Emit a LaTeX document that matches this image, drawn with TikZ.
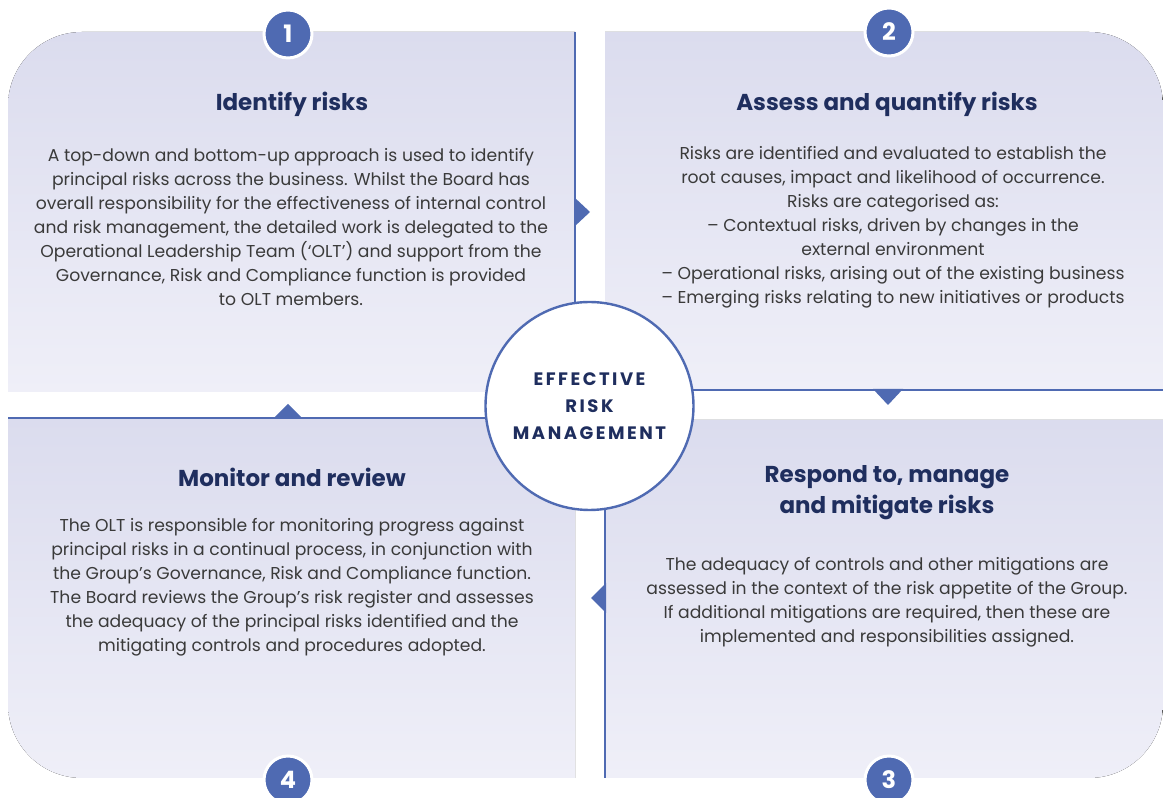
\documentclass[tikz,border=0pt]{standalone}
\usepackage{fontspec}
\setmainfont{Poppins}
\definecolor{rmblue}{HTML}{4F6AB2}
\definecolor{paneltop}{HTML}{DBDCEE}
\definecolor{panelbot}{HTML}{EFEFF8}
\definecolor{titlecol}{HTML}{1F2E5E}
\definecolor{bodycol}{HTML}{3A3A3A}
\begin{document}
\begin{tikzpicture}[x=1pt,y=1pt,
  panel/.style={top color=paneltop, bottom color=panelbot},
  bline/.style={draw=rmblue, line width=2.4pt},
  tri/.style={fill=rmblue},
  hubstyle/.style={circle, draw=rmblue, line width=2.4pt, fill=white, minimum size=208pt, inner sep=0pt,
    text=titlecol, align=center, font=\fontsize{18}{27}\selectfont\bfseries\addfontfeatures{LetterSpace=14}},
  badge/.style={circle, fill=rmblue, draw=white, line width=3pt, minimum size=48pt, inner sep=0pt,
    text=white, font=\fontsize{24}{24}\selectfont\bfseries},
  title/.style={text=titlecol, font=\fontsize{23}{31}\selectfont\bfseries, align=center, inner sep=0pt},
  body/.style={text=bodycol, font=\fontsize{17.2}{24}\selectfont, align=center, inner sep=0pt},
]
\useasboundingbox (0,0) rectangle (1163,798);
% panels
\fill[panel] (8,406) -- (8,692) arc[start angle=180, end angle=90, radius=74] -- (575,766) -- (575,406) -- cycle;
\fill[panel] (605,408) -- (605,766) -- (1089,766) arc[start angle=90, end angle=0, radius=74] -- (1163,408) -- cycle;
\fill[panel] (605,378) -- (1163,378) -- (1163,94) arc[start angle=0, end angle=-90, radius=74] -- (605,20) -- cycle;
\fill[panel] (575,380) -- (8,380) -- (8,94) arc[start angle=180, end angle=270, radius=74] -- (575,20) -- cycle;
% blue borders
\draw[bline] (575,766) -- (575,400);
\draw[bline] (600,408) -- (1163,408);
\draw[bline] (605,400) -- (605,20);
\draw[bline] (8,380) -- (580,380);
% arrow triangles
\fill[tri] (574,601) -- (590,586) -- (574,571) -- cycle;
\fill[tri] (873,409) -- (888,393) -- (903,409) -- cycle;
\fill[tri] (606,215) -- (591,200) -- (606,185) -- cycle;
\fill[tri] (273,379) -- (288,394) -- (303,379) -- cycle;
% hub
\node[hubstyle] (hub) at (589.5,392) {EFFECTIVE\\RISK\\MANAGEMENT};
% badges
\node[badge] (b1) at (288,764) {1};
\node[badge] (b2) at (889,766) {2};
\node[badge] (b3) at (889,18) {3};
\node[badge] (b4) at (288,18) {4};
% titles
\node[title] (t1) at (292,694) {Identify risks};
\node[title] (t2) at (887,694) {Assess and quantify risks};
\node[title] (t3) at (887,305) {Respond to, manage\\and mitigate risks};
\node[title] (t4) at (292,321) {Monitor and review};
% bodies
\node[body] (p1) at (291,571) {A top-down and bottom-up approach is used to identify\\
principal risks across the business. Whilst the Board has\\
overall responsibility for the effectiveness of internal control\\
and risk management, the detailed work is delegated to the\\
Operational Leadership Team (‘OLT’) and support from the\\
Governance, Risk and Compliance function is provided\\
to OLT members.};
\node[body] (p2) at (893,571) {Risks are identified and evaluated to establish the\\
root causes, impact and likelihood of occurrence.\\
Risks are categorised as:\\
– Contextual risks, driven by changes in the\\
external environment\\
– Operational risks, arising out of the existing business\\
– Emerging risks relating to new initiatives or products};
\node[body] (p3) at (887,196) {The adequacy of controls and other mitigations are\\
assessed in the context of the risk appetite of the Group.\\
If additional mitigations are required, then these are\\
implemented and responsibilities assigned.};
\node[body] (p4) at (292,211) {The OLT is responsible for monitoring progress against\\
principal risks in a continual process, in conjunction with\\
the Group’s Governance, Risk and Compliance function.\\
The Board reviews the Group’s risk register and assesses\\
the adequacy of the principal risks identified and the\\
mitigating controls and procedures adopted.};
\end{tikzpicture}
\end{document}
